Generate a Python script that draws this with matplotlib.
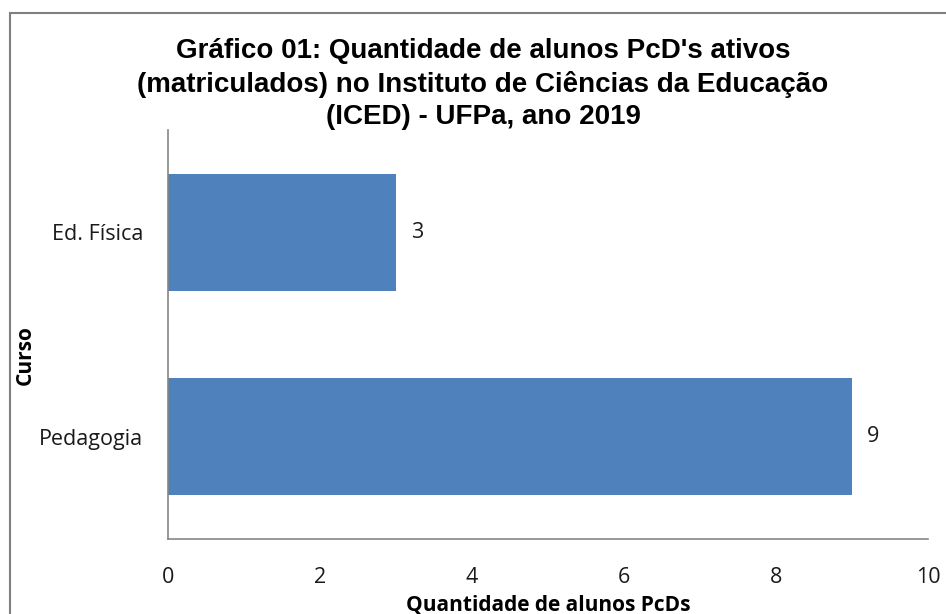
import matplotlib.pyplot as plt
from matplotlib.patches import Rectangle

cursos = ["Pedagogia", "Ed. Física"]
alunos = [9, 3]
xticks = [0, 2, 4, 6, 8, 10]

TITLE = ("Gráfico 01: Quantidade de alunos PcD's ativos\n"
         "(matriculados) no Instituto de Ciências da Educação\n"
         "(ICED) - UFPa, ano 2019")
BAR_COLOR = "#4F81BD"
AXIS_COLOR = "#868686"
TICK_FONT = ["Open Sans", "DejaVu Sans"]

fig = plt.figure(figsize=(9.46, 6.14), dpi=100)
ax = fig.add_axes([168 / 946, 75 / 614, 760 / 946, 409 / 614])

# outer chart border (Excel style), runs past the right/bottom edge
fig.patches.append(Rectangle((10 / 946, -0.05), 1.0, (614 - 13) / 614 + 0.05,
                             transform=fig.transFigure, fill=False,
                             edgecolor="#7f7f7f", linewidth=1.5))

y_pos = list(range(len(cursos)))
bars = ax.barh(y_pos, alunos, height=0.57, color=BAR_COLOR)
for bar, val in zip(bars, alunos):
    ax.annotate(str(val), (bar.get_width(), bar.get_y() + bar.get_height() / 2),
                xytext=(10.5, 0), textcoords="offset points", ha="left", va="center",
                fontsize=15.5, family=TICK_FONT, color="#1a1a1a")

ax.set_xlim(0, 10)
ax.set_ylim(-0.5, len(cursos) - 0.5)
ax.set_xticks(xticks)
ax.set_xticklabels([str(t) for t in xticks], family=TICK_FONT, fontsize=15.5)
ax.set_yticks(y_pos)
ax.set_yticklabels(cursos, family=TICK_FONT, fontsize=15.5)
ax.tick_params(length=0, colors="#1a1a1a")
ax.tick_params(axis="x", pad=20)
ax.tick_params(axis="y", pad=18)

for side in ("top", "right"):
    ax.spines[side].set_visible(False)
for side in ("left", "bottom"):
    ax.spines[side].set_color(AXIS_COLOR)
    ax.spines[side].set_linewidth(1.2)

ax.set_xlabel("Quantidade de alunos PcDs", family=TICK_FONT, fontsize=15,
              fontweight="bold", labelpad=5)
fig.text(25 / 946, (614 - 355) / 614, "Curso", rotation=90, ha="center", va="center",
         family=TICK_FONT, fontsize=15, fontweight="bold")

fig.text(483 / 946, (614 - 38) / 614, TITLE, ha="center", va="top",
         family=["Liberation Sans", "DejaVu Sans"], fontsize=20, fontweight="bold",
         linespacing=1.32, color="black")

fig.savefig("out.png", dpi=100)
